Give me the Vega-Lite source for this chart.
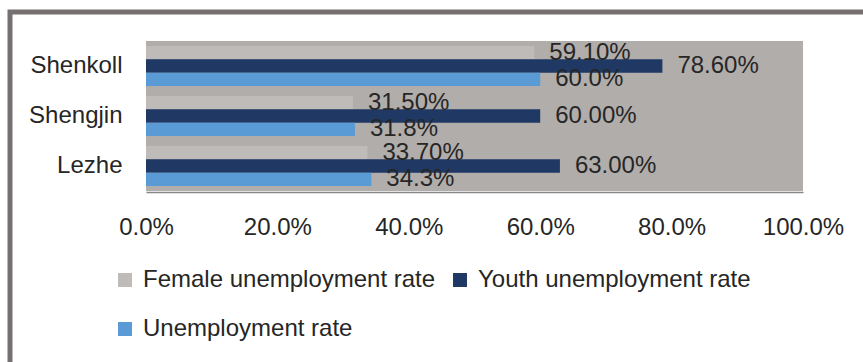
{
  "$schema": "https://vega.github.io/schema/vega-lite/v6.json",
  "width": 858,
  "height": 355,
  "autosize": "none",
  "padding": {"left": 10, "top": 12, "right": -5, "bottom": -5},
  "config": {
    "view": {"stroke": "#767170", "strokeWidth": 5, "fill": "white"},
    "font": "Liberation Sans",
    "axis": {"labelFont": "Liberation Sans", "labelFontSize": 24, "labelColor": "#262626"},
    "legend": {"labelFont": "Liberation Sans", "labelFontSize": 24, "labelColor": "#262626"}
  },
  "resolve": {"scale": {"y": "independent"}},
  "layer": [
    {
      "data": {"values": [{"lo": 0, "hi": 1}]},
      "mark": {"type": "rect", "color": "#b1adab"},
      "encoding": {
        "x": {"field": "lo", "type": "quantitative", "scale": {"domain": [0, 1], "range": [136, 793]}},
        "x2": {"field": "hi"},
        "y": {"field": "lo", "type": "quantitative", "scale": {"domain": [0, 1], "range": [29, 179]}, "axis": null},
        "y2": {"field": "hi"}
      }
    },
    {
      "data": {
        "values": [
          {"cat": "Shenkoll", "series": "Female unemployment rate", "value": 0.591},
          {"cat": "Shenkoll", "series": "Youth unemployment rate", "value": 0.786},
          {"cat": "Shenkoll", "series": "Unemployment rate", "value": 0.600},
          {"cat": "Shengjin", "series": "Female unemployment rate", "value": 0.315},
          {"cat": "Shengjin", "series": "Youth unemployment rate", "value": 0.600},
          {"cat": "Shengjin", "series": "Unemployment rate", "value": 0.318},
          {"cat": "Lezhe", "series": "Female unemployment rate", "value": 0.337},
          {"cat": "Lezhe", "series": "Youth unemployment rate", "value": 0.630},
          {"cat": "Lezhe", "series": "Unemployment rate", "value": 0.343}
        ]
      },
      "encoding": {
        "y": {
          "field": "cat", "type": "nominal",
          "sort": ["Shenkoll", "Shengjin", "Lezhe"],
          "scale": {"range": [29, 179], "paddingInner": 0.2, "paddingOuter": 0.1},
          "axis": {"title": null, "offset": -136, "ticks": false, "domain": false, "labelPadding": 24}
        },
        "yOffset": {
          "field": "series", "type": "nominal",
          "sort": ["Female unemployment rate", "Youth unemployment rate", "Unemployment rate"]
        },
        "x": {
          "field": "value", "type": "quantitative",
          "scale": {"domain": [0, 1], "range": [136, 793]},
          "axis": {"title": null, "format": ".1%", "values": [0, 0.2, 0.4, 0.6, 0.8, 1], "grid": false, "ticks": false, "domain": true, "domainColor": "#8a8886", "domainWidth": 1.5, "labelPadding": 23, "offset": -175, "labelFlush": false, "labelOverlap": false, "labelBound": false}
        }
      },
      "layer": [
        {
          "mark": {"type": "bar"},
          "encoding": {
            "color": {
              "field": "series", "type": "nominal",
              "scale": {"domain": ["Female unemployment rate", "Youth unemployment rate", "Unemployment rate"], "range": ["#bebbb9", "#1f3864", "#5b9bd5"]},
              "legend": {"title": null, "orient": "none", "legendX": 103, "legendY": 256, "direction": "horizontal", "columns": 2, "symbolType": "square", "symbolSize": 196, "symbolStrokeWidth": 0, "labelOffset": 6, "labelLimit": 500, "rowPadding": 25, "columnPadding": 12, "padding": 0}
            }
          }
        },
        {
          "transform": [{"filter": "datum.series !== 'Unemployment rate'"}],
          "mark": {"type": "text", "align": "left", "baseline": "middle", "dx": 15, "fontSize": 24, "color": "#262626"},
          "encoding": {"text": {"field": "value", "type": "quantitative", "format": ".2%"}}
        },
        {
          "transform": [{"filter": "datum.series === 'Unemployment rate'"}],
          "mark": {"type": "text", "align": "left", "baseline": "middle", "dx": 15, "fontSize": 24, "color": "#262626"},
          "encoding": {"text": {"field": "value", "type": "quantitative", "format": ".1%"}}
        }
      ]
    }
  ]
}
